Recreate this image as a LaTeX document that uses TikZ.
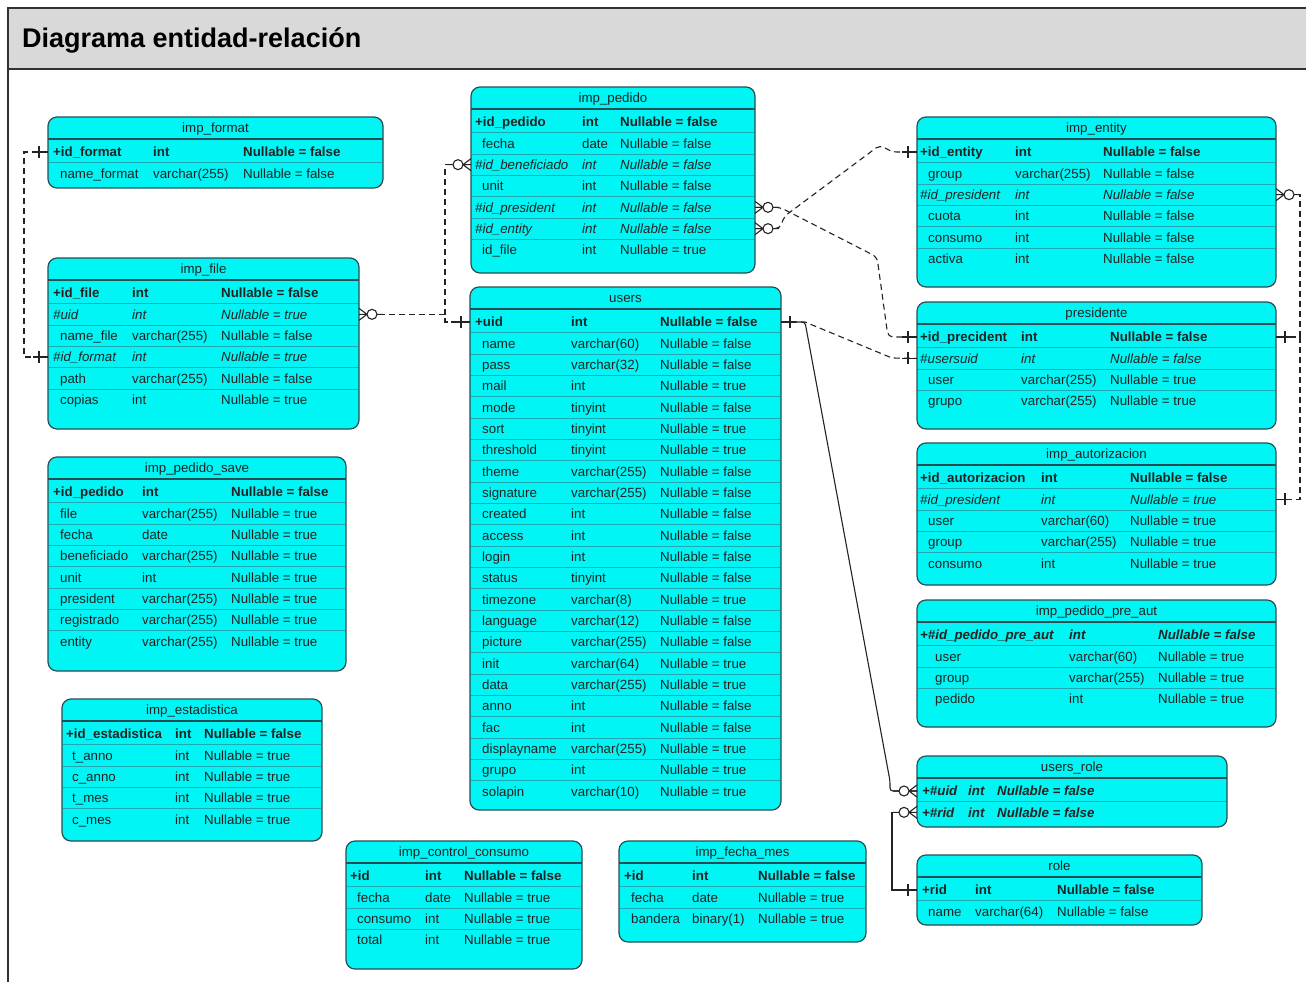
\documentclass[tikz,border=0pt]{standalone}
\usepackage{fontspec}
\setmainfont{Liberation Sans}
\usetikzlibrary{calc}

\definecolor{tcyan}{RGB}{0,245,245}
\definecolor{tedge}{RGB}{38,78,84}
\definecolor{tsep}{RGB}{30,170,178}
\definecolor{ink}{RGB}{35,35,35}
\definecolor{barfill}{RGB}{217,217,217}
\definecolor{framegray}{RGB}{50,50,50}

\newcommand\tabfont{\fontsize{13.3}{16}\selectfont}
% row styles: b = key, i = foreign key, n = plain, x = key + foreign key
\newcommand\rsb{\bfseries}
\newcommand\rsi{\itshape}
\newcommand\rsn{}
\newcommand\rsx{\bfseries\itshape}
\def\plainrow{n}
\def\parsecols#1,#2,#3,#4\relax{\def\cA{#1}\def\cB{#2}\def\cC{#3}\def\cD{#4}}

\tikzset{
  tbox/.style={draw=tedge, fill=tcyan, line width=1.2pt, rounded corners=9pt, inner sep=0pt, outer sep=0pt},
  rowbox/.style={inner sep=0pt, outer sep=0pt, minimum height=21.33pt},
  ttitle/.style={inner sep=0pt, text=ink, font=\tabfont, anchor=base},
  cell/.style={inner sep=0pt, text=ink, font=\tabfont, anchor=base west},
  hline/.style={draw=tedge, line width=1.2pt},
  sepline/.style={draw=tsep, line width=0.6pt},
  conn/.style={draw=ink, line width=1.1pt},
  fk/.style={conn, dash pattern=on 6pt off 4pt},
  mk/.style={draw=ink, line width=1.1pt, solid},
  onemark/.pic={\draw[mk] (0,0) -- (15,0) (9,-6) -- (9,6);},
  zmanymark/.pic={\draw[mk] (0,-6) -- (8,0) -- (0,6) (0,0) -- (8,0) (18,0) -- (24,0);
                  \draw[mk, fill=white] (13,0) circle[radius=5];},
}

% #1 id, #2 left, #3 top, #4 right, #5 bottom, #6 title,
% #7 columns (key name, plain name, type, nullable), #8 rows
\newcommand\ertable[8]{%
  \parsecols#7\relax
  \pgfmathsetmacro\tw{#4-#2}%
  \pgfmathsetmacro\th{#5-#3}%
  \node[tbox, minimum width=\tw pt, minimum height=\th pt, anchor=north west] (#1) at (#2,#3) {};
  \node[ttitle] (#1-t) at ({(#2+#4)/2},#3+15.5) {#6};
  \foreach \rs/\rn/\rt/\ru [count=\k] in {#8} {
    \pgfmathsetmacro\cy{#3+35+(\k-1)*21.33}
    \edef\thisrow{\rs}%
    \ifx\thisrow\plainrow \let\nx\cB \else \let\nx\cA \fi
    \ifnum\k>1 \draw[sepline] (#2+1,\cy-10.67) -- (#4-1,\cy-10.67); \fi
    \node[rowbox, minimum width=\tw pt, anchor=west] (#1-\k) at (#2,\cy) {};
    \node[cell] at (\nx,\cy+4.8) {\csname rs\rs\endcsname\rn};
    \node[cell] at (\cC,\cy+4.8) {\csname rs\rs\endcsname\rt};
    \node[cell] at (\cD,\cy+4.8) {\csname rs\rs\endcsname\ru};
  }
  \draw[hline] (#2,#3+22) -- (#4,#3+22);
}

\begin{document}
\begin{tikzpicture}[x=1pt, y=-1pt]
\useasboundingbox (0,0) rectangle (1306,982);
\clip (0,0) rectangle (1306,982);
\fill[white] (0,0) rectangle (1306,982);

% frame and title bar
\draw[draw=framegray, fill=barfill, line width=2pt] (8,8) rectangle (1330,69);
\draw[framegray, line width=2pt] (8,69) -- (8,1000);
\node[anchor=base west, inner sep=0pt, font=\fontsize{27}{32}\selectfont\bfseries, text=black]
  (title) at (22,48) {Diagrama entidad-relación};

% tables
\ertable{fmt}{48}{117}{383}{188}{imp\_format}{53,60,153,243}{
  b/+id\_format/int/Nullable = false,
  n/name\_format/varchar(255)/Nullable = false}

\ertable{file}{48}{258}{359}{429}{imp\_file}{53,60,132,221}{
  b/+id\_file/int/Nullable = false,
  i/\#uid/int/Nullable = true,
  n/name\_file/varchar(255)/Nullable = false,
  i/\#id\_format/int/Nullable = true,
  n/path/varchar(255)/Nullable = false,
  n/copias/int/Nullable = true}

\ertable{ped}{471}{87}{755}{273}{imp\_pedido}{475,482,582,620}{
  b/+id\_pedido/int/Nullable = false,
  n/fecha/date/Nullable = false,
  i/\#id\_beneficiado/int/Nullable = false,
  n/unit/int/Nullable = false,
  i/\#id\_president/int/Nullable = false,
  i/\#id\_entity/int/Nullable = false,
  n/id\_file/int/Nullable = true}

\ertable{users}{470}{287}{781}{810}{users}{475,482,571,660}{
  b/+uid/int/Nullable = false,
  n/name/varchar(60)/Nullable = false,
  n/pass/varchar(32)/Nullable = false,
  n/mail/int/Nullable = true,
  n/mode/tinyint/Nullable = false,
  n/sort/tinyint/Nullable = true,
  n/threshold/tinyint/Nullable = true,
  n/theme/varchar(255)/Nullable = false,
  n/signature/varchar(255)/Nullable = false,
  n/created/int/Nullable = false,
  n/access/int/Nullable = false,
  n/login/int/Nullable = false,
  n/status/tinyint/Nullable = false,
  n/timezone/varchar(8)/Nullable = true,
  n/language/varchar(12)/Nullable = false,
  n/picture/varchar(255)/Nullable = false,
  n/init/varchar(64)/Nullable = true,
  n/data/varchar(255)/Nullable = true,
  n/anno/int/Nullable = false,
  n/fac/int/Nullable = false,
  n/displayname/varchar(255)/Nullable = true,
  n/grupo/int/Nullable = true,
  n/solapin/varchar(10)/Nullable = true}

\ertable{save}{48}{457}{346}{671}{imp\_pedido\_save}{53,60,142,231}{
  b/+id\_pedido/int/Nullable = false,
  n/file/varchar(255)/Nullable = true,
  n/fecha/date/Nullable = true,
  n/beneficiado/varchar(255)/Nullable = true,
  n/unit/int/Nullable = true,
  n/president/varchar(255)/Nullable = true,
  n/registrado/varchar(255)/Nullable = true,
  n/entity/varchar(255)/Nullable = true}

\ertable{est}{62}{699}{322}{841}{imp\_estadistica}{66,72,175,204}{
  b/+id\_estadistica/int/Nullable = false,
  n/t\_anno/int/Nullable = true,
  n/c\_anno/int/Nullable = true,
  n/t\_mes/int/Nullable = true,
  n/c\_mes/int/Nullable = true}

\ertable{ent}{917}{117}{1276}{287}{imp\_entity}{920,928,1015,1103}{
  b/+id\_entity/int/Nullable = false,
  n/group/varchar(255)/Nullable = false,
  i/\#id\_president/int/Nullable = false,
  n/cuota/int/Nullable = false,
  n/consumo/int/Nullable = false,
  n/activa/int/Nullable = false}

\ertable{pres}{917}{302}{1276}{429}{presidente}{920,928,1021,1110}{
  b/+id\_precident/int/Nullable = false,
  i/\#usersuid/int/Nullable = false,
  n/user/varchar(255)/Nullable = true,
  n/grupo/varchar(255)/Nullable = true}

\ertable{aut}{917}{443}{1276}{585}{imp\_autorizacion}{920,928,1041,1130}{
  b/+id\_autorizacion/int/Nullable = false,
  i/\#id\_president/int/Nullable = true,
  n/user/varchar(60)/Nullable = true,
  n/group/varchar(255)/Nullable = true,
  n/consumo/int/Nullable = true}

\ertable{pre}{917}{600}{1276}{727}{imp\_pedido\_pre\_aut}{920,935,1069,1158}{
  x/+\#id\_pedido\_pre\_aut/int/Nullable = false,
  n/user/varchar(60)/Nullable = true,
  n/group/varchar(255)/Nullable = true,
  n/pedido/int/Nullable = true}

\ertable{ur}{917}{756}{1227}{827}{users\_role}{922,922,968,997}{
  x/+\#uid/int/Nullable = false,
  x/+\#rid/int/Nullable = false}

\ertable{role}{917}{855}{1202}{925}{role}{922,928,975,1057}{
  b/+rid/int/Nullable = false,
  n/name/varchar(64)/Nullable = false}

\ertable{cc}{346}{841}{582}{969}{imp\_control\_consumo}{350,357,425,464}{
  b/+id/int/Nullable = false,
  n/fecha/date/Nullable = true,
  n/consumo/int/Nullable = true,
  n/total/int/Nullable = true}

\ertable{fm}{619}{841}{866}{942}{imp\_fecha\_mes}{624,631,692,758}{
  b/+id/int/Nullable = false,
  n/fecha/date/Nullable = true,
  n/bandera/binary(1)/Nullable = true}

% relationships
\draw[fk] (fmt-1.west) -- ++(-24,0) |- (file-4.west);
\draw[fk] (file-2.east) -- ++(86,0) |- (users-1.west);
\draw[fk] (ped-3.west) -- ++(-26,0) |- (users-1.west);
\draw[fk, rounded corners=5pt] (ped-5.east) -- ++(25,0) -- (877,257) -- (888,337) -- (pres-1.west);
\draw[fk, rounded corners=5pt] (ped-6.east) -- ++(25,0) -- ++(4,-12) -- (880,145) -- (892,152) -- (ent-1.west);
\draw[fk] (users-1.east) -- ++(24,0) -- (892,358) -- (pres-2.west);
\draw[fk] (ent-3.east) -- ++(24,0) |- (pres-1.east);
\draw[fk] (aut-2.east) -- ++(24,0) |- (pres-1.east);
\draw[conn, rounded corners=3pt] (users-1.east) -- ++(24,0) -- (890,781) |- (ur-1.west);
\draw[conn] (role-1.west) -- ++(-25,0) |- (ur-2.west);

% cardinality marks
\pic[xscale=-1] at (fmt-1.west) {onemark};
\pic[xscale=-1] at (file-4.west) {onemark};
\pic at (file-2.east) {zmanymark};
\pic[xscale=-1] at (ped-3.west) {zmanymark};
\pic[xscale=-1] at (users-1.west) {onemark};
\pic at (ped-5.east) {zmanymark};
\pic at (ped-6.east) {zmanymark};
\pic[xscale=-1] at (ent-1.west) {onemark};
\pic[xscale=-1] at (pres-1.west) {onemark};
\pic[xscale=-1] at (pres-2.west) {onemark};
\pic at (users-1.east) {onemark};
\pic at (ent-3.east) {zmanymark};
\pic at (pres-1.east) {onemark};
\pic at (aut-2.east) {onemark};
\pic[xscale=-1] at (ur-1.west) {zmanymark};
\pic[xscale=-1] at (ur-2.west) {zmanymark};
\pic[xscale=-1] at (role-1.west) {onemark};
\end{tikzpicture}
\end{document}
